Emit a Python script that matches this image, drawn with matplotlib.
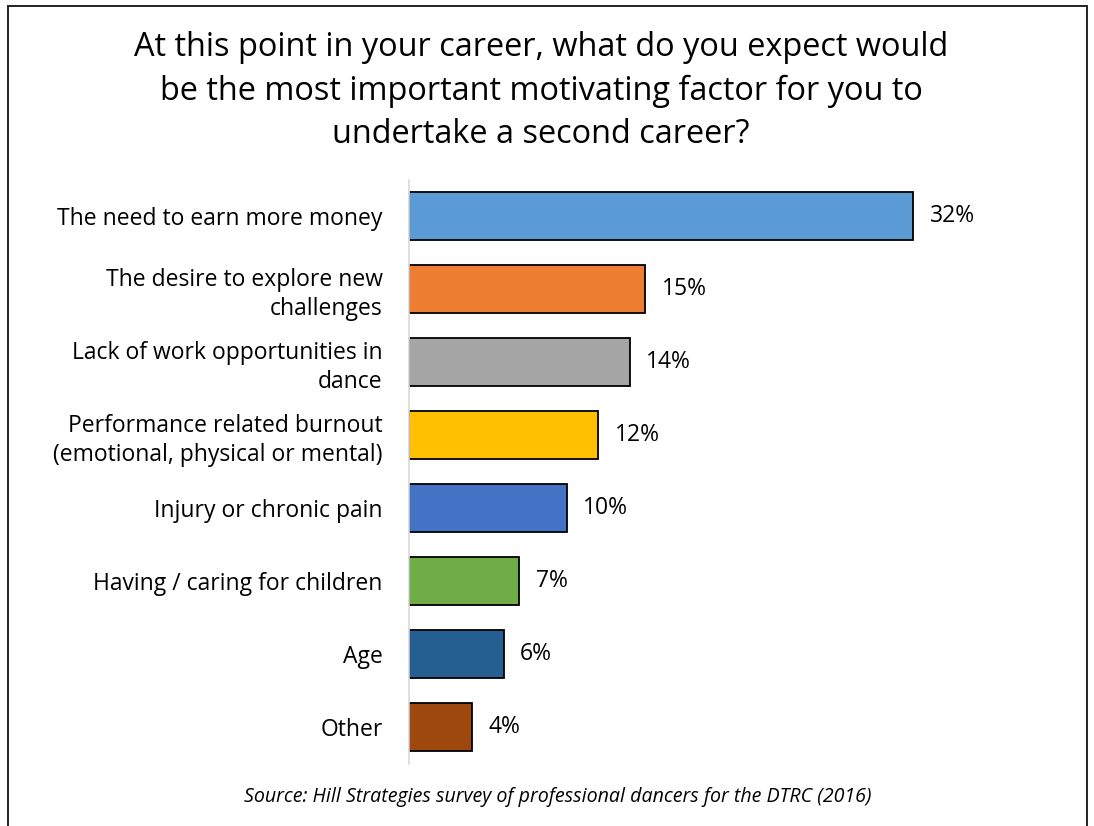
import matplotlib
matplotlib.use("Agg")
import matplotlib.pyplot as plt
from matplotlib.patches import Rectangle

plt.rcParams['font.family'] = ['Open Sans', 'DejaVu Sans']

# survey answers, top to bottom
categories = [
    "The need to earn more money",
    "The desire to explore new\nchallenges",
    "Lack of work opportunities in\ndance",
    "Performance related burnout\n(emotional, physical or mental)",
    "Injury or chronic pain",
    "Having / caring for children",
    "Age",
    "Other",
]
values = [32, 15, 14, 12, 10, 7, 6, 4]
colors = ["#5B9BD5", "#ED7D31", "#A5A5A5", "#FFC000",
          "#4472C4", "#70AD47", "#255E91", "#9E480E"]

title = ("At this point in your career, what do you expect would\n"
         "be the most important motivating factor for you to\n"
         "undertake a second career?")
source = "Source: Hill Strategies survey of professional dancers for the DTRC (2016)"

W, H = 1094, 826
fig = plt.figure(figsize=(W / 100, H / 100), dpi=100)

# outer frame (bottom edge runs off the canvas)
fig.patches.append(Rectangle((8 / W, -0.05), (1087 - 8) / W, 1.05 - 6 / H,
                             transform=fig.transFigure, fill=False,
                             edgecolor="#222222", linewidth=1.4))

ax = fig.add_axes([409 / W, 1 - 763.5 / H, 591 / W, 584 / H])
ypos = list(range(len(values)))
ax.barh(ypos, values, height=0.66, color=colors, edgecolor="black", linewidth=1.3)
ax.set_ylim(len(values) - 0.5, -0.5)
ax.set_xlim(0, 37.5)

for y, v in zip(ypos, values):
    ax.text(v + 1.05, y, f"{v}%", va="center", ha="left", fontsize=16.5)

ax.set_yticks(ypos)
ax.set_yticklabels(categories, fontsize=16.5, linespacing=1.3)
ax.tick_params(axis="y", length=0, pad=19)
ax.set_xticks([])
for side in ["top", "right", "bottom"]:
    ax.spines[side].set_visible(False)
ax.spines["left"].set_color("#D9D9D9")
ax.spines["left"].set_linewidth(1.2)

fig.text(541 / W, 1 - 91 / H, title, ha="center", va="center",
         fontsize=23.4, linespacing=1.42)
fig.text(558 / W, 1 - 797 / H, source, ha="center", va="center",
         fontsize=14.1, style="italic")

fig.savefig("out.png", dpi=100)
